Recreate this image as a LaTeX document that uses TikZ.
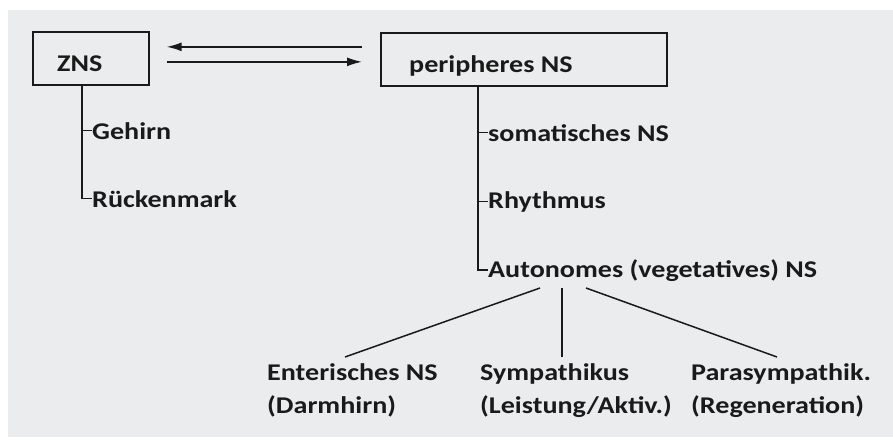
\documentclass[tikz,border=0pt]{standalone}
\usepackage{fontspec}
\setmainfont{Carlito}[FakeStretch=1.17]
\usetikzlibrary{arrows.meta,calc}
\definecolor{paper}{HTML}{EAECED}
\definecolor{ink}{HTML}{1A1A1A}
\tikzset{
  lbl/.style={inner sep=0pt, anchor=base west, font=\bfseries\fontsize{24}{33}\selectfont, text=ink},
  boxnode/.style={draw=ink, line width=1.7pt, inner sep=0pt, anchor=north west},
  conn/.style={draw=ink, line width=1.5pt},
  arr/.style={draw=ink, line width=1.5pt, -{Latex[length=15pt,width=9pt]}},
}
\begin{document}
\begin{tikzpicture}[x=1pt,y=-1pt]
\useasboundingbox (0,0) rectangle (893,439);
\fill[white] (0,0) rectangle (893,439);
\fill[paper] (8,10) rectangle (893,437);
% boxes
\node[boxnode, minimum width=116pt, minimum height=53pt] (zns) at (32,31) {};
\node[lbl] (znst) at (57,71) {ZNS};
\node[boxnode, minimum width=286pt, minimum height=53pt] (per) at (380,32) {};
\node[lbl] (pert) at (409,72) {peripheres NS};
% arrows between
\coordinate (a1s) at ($(per.west)+(-18,-12.5)$);
\coordinate (a1e) at ($(zns.east)+(17,-11.5)$);
\coordinate (a2s) at ($(zns.east)+(17,3.5)$);
\coordinate (a2e) at ($(per.west)+(-18,2.5)$);
\draw[arr] (a1s) -- (a1e);
\draw[arr] (a2s) -- (a2e);
% ZNS tree
\node[lbl] (geh) at (92,139) {Gehirn};
\node[lbl] (rueck) at (92,207) {Rückenmark};
\coordinate (zt) at (zns.south -| 82,0);
\draw[conn] (zt) |- (rueck.west);
\draw[conn] (geh.west -| zt) -- (geh.west);
% peripheres tree
\node[lbl] (som) at (488,141) {somatisches NS};
\node[lbl] (rhy) at (488,208) {Rhythmus};
\node[lbl] (aut) at (488,277) {Autonomes (vegetatives) NS};
\coordinate (pt) at (per.south -| 478,0);
\draw[conn] (pt) |- (aut.west);
\draw[conn] (som.west -| pt) -- (som.west);
\draw[conn] (rhy.west -| pt) -- (rhy.west);
% children
\node[lbl, anchor=base west, align=left] (ent) at (267,413) {Enterisches NS\\(Darmhirn)};
\node[lbl, anchor=base west, align=left] (sym) at (480,413) {Sympathikus\\(Leistung/Aktiv.)};
\node[lbl, anchor=base west, align=left] (par) at (691,413) {Parasympathik.\\(Regeneration)};
\coordinate (c1s) at (540,288);
\coordinate (c1e) at (345,357);
\coordinate (c2s) at (562,288);
\coordinate (c2e) at (562,357);
\coordinate (c3s) at (586,288);
\coordinate (c3e) at (777,357);
\draw[conn] (c1s) -- (c1e);
\draw[conn] (c2s) -- (c2e);
\draw[conn] (c3s) -- (c3e);
\end{tikzpicture}
\end{document}
